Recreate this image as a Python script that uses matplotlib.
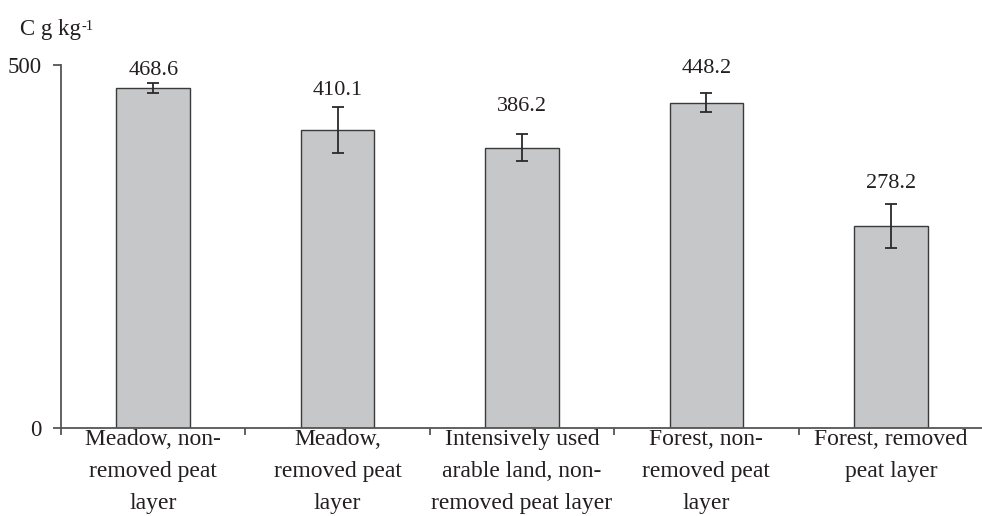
"""Carbon content (C g kg-1) bar chart with error bars, five land-use groups."""
import numpy as np
import matplotlib
matplotlib.use("Agg")
import matplotlib.pyplot as plt

plt.rcParams["font.family"] = ["Liberation Serif", "DejaVu Serif"]

categories = [
    "Meadow, non-\nremoved peat\nlayer",
    "Meadow,\nremoved peat\nlayer",
    "Intensively used\narable land, non-\nremoved peat layer",
    "Forest, non-\nremoved peat\nlayer",
    "Forest, removed\npeat layer",
]
values = [468.6, 410.1, 386.2, 448.2, 278.2]
errors = [6.9, 31.7, 18.6, 13.4, 29.8]
# where the value labels sit (data units)
label_y = [493, 465.5, 442.5, 495.4, 337]

text_col = "#231f20"
x = np.arange(len(values))

fig = plt.figure(figsize=(9.82, 5.16), dpi=100)
ax = fig.add_axes([61 / 982, 1 - 427.7 / 516, 922 / 982, (427.7 - 65) / 516])

ax.bar(x, values, width=0.4, color="#c6c7c9", edgecolor="#3a3a3a", linewidth=1.0, zorder=2)
ax.errorbar(x, values, yerr=errors, fmt="none", ecolor="#2a2a2a",
            elinewidth=1.3, capsize=4, capthick=1.3, zorder=3)

for xi, yi, v in zip(x, label_y, values):
    ax.text(xi, yi, f"{v:.1f}", ha="center", va="center",
            fontsize=16, color=text_col)

ax.set_xlim(-0.5, len(values) - 0.5)
ax.set_ylim(0, 500)
ax.set_yticks([0, 500])
ax.set_yticklabels(["0", "500"], fontsize=16.5, color=text_col)

# boundary ticks without labels, category names on minor ticks at centres
ax.set_xticks(np.arange(-0.5, len(values), 1.0))
ax.set_xticklabels([])
ax.set_xticks(x, minor=True)
ax.set_xticklabels(categories, minor=True, fontsize=17, color=text_col,
                   linespacing=1.68)
ax.tick_params(axis="x", which="minor", length=0, pad=1)
ax.tick_params(axis="x", which="major", direction="out", length=5,
               width=1.3, color="#555555")
ax.tick_params(axis="y", direction="out", length=6, width=1.3,
               color="#555555", pad=8)

for side in ["top", "right"]:
    ax.spines[side].set_visible(False)
for side in ["left", "bottom"]:
    ax.spines[side].set_color("#555555")
    ax.spines[side].set_linewidth(1.3)

ylab = fig.text(20 / 982, 1 - 29 / 516, "C g kg", fontsize=16.5,
                color=text_col, ha="left", va="center")
ax.annotate("-1", xy=(1, 1), xycoords=ylab, xytext=(0.5, -1),
            textcoords="offset points", fontsize=10.5, color=text_col,
            ha="left", va="top", annotation_clip=False)

fig.savefig("out.png", dpi=100)
